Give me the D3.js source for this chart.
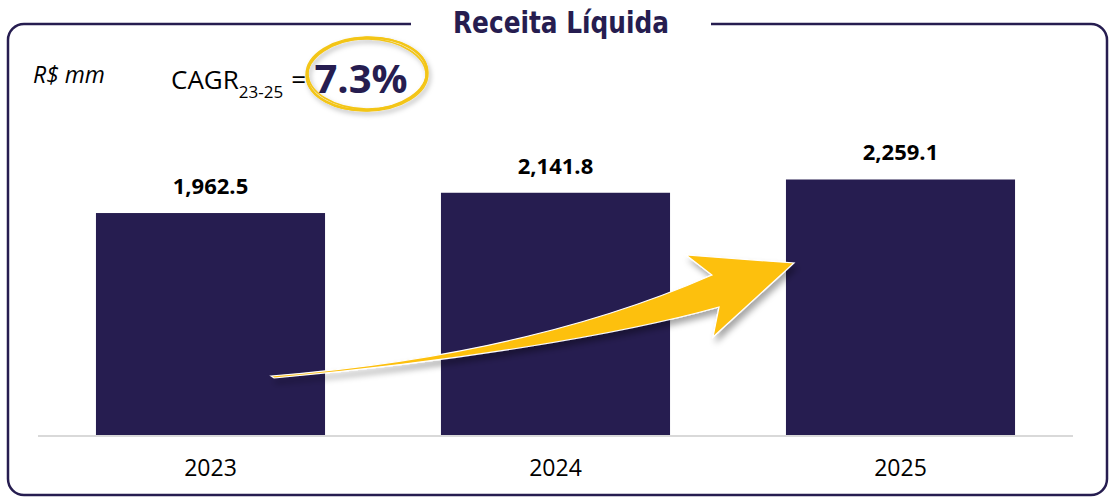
<!DOCTYPE html>
<html>
<head>
<meta charset="utf-8">
<script src="https://cdn.jsdelivr.net/npm/d3@7"></script>
<style>
  html, body { margin: 0; padding: 0; background: #fff; }
  svg { display: block; }
</style>
</head>
<body>
<svg id="chart" width="1109" height="497"></svg>
<script>
// ---- Data ----
const categories = ["2023", "2024", "2025"];
const values = [1962.5, 2141.8, 2259.1];
const valueLabels = ["1,962.5", "2,141.8", "2,259.1"];
const title = "Receita Líquida";
const unitLabel = "R$ mm";
const cagrLabel = "CAGR";
const cagrSub = "23-25";
const cagrValue = "7.3%";

// ---- Styles ----
const NAVY = "#261d50";
const YELLOW = "#fdc010";

const svg = d3.select("#chart");
const defs = svg.append("defs");

const sh = defs.append("filter").attr("id", "shadow")
  .attr("x", "-20%").attr("y", "-20%").attr("width", "140%").attr("height", "160%");
sh.append("feDropShadow").attr("dx", 3).attr("dy", 5).attr("stdDeviation", 3)
  .attr("flood-color", "#000").attr("flood-opacity", 0.35);

const sh2 = defs.append("filter").attr("id", "shadow2")
  .attr("x", "-20%").attr("y", "-20%").attr("width", "140%").attr("height", "160%");
sh2.append("feDropShadow").attr("dx", 2).attr("dy", 3).attr("stdDeviation", 2.5)
  .attr("flood-color", "#000").attr("flood-opacity", 0.25);

// ---- Frame with title gap ----
const fx0 = 8, fx1 = 1107, fy0 = 24, fy1 = 495, r = 16;
const gapL = 411, gapR = 711;
const framePath = d3.path();
framePath.moveTo(gapL, fy0);
framePath.lineTo(fx0 + r, fy0);
framePath.arcTo(fx0, fy0, fx0, fy0 + r, r);
framePath.lineTo(fx0, fy1 - r);
framePath.arcTo(fx0, fy1, fx0 + r, fy1, r);
framePath.lineTo(fx1 - r, fy1);
framePath.arcTo(fx1, fy1, fx1, fy1 - r, r);
framePath.lineTo(fx1, fy0 + r);
framePath.arcTo(fx1, fy0, fx1 - r, fy0, r);
framePath.lineTo(gapR, fy0);
svg.append("path").attr("d", framePath.toString())
  .attr("fill", "none").attr("stroke", NAVY).attr("stroke-width", 2.5);

const t = svg.append("text")
  .attr("x", 561).attr("y", 33)
  .attr("text-anchor", "middle")
  .attr("font-family", "'Liberation Sans Narrow', 'DejaVu Sans Condensed', sans-serif")
  .attr("font-weight", "bold")
  .attr("font-size", 31)
  .attr("fill", NAVY)
  .text(title);
const tw = t.node().getComputedTextLength();
if (Math.abs(tw - 216) > 8) t.attr("textLength", 216).attr("lengthAdjust", "spacingAndGlyphs");

// ---- Scales ----
const x = d3.scaleBand().domain(categories).range([38, 1073]).paddingInner(0.336).paddingOuter(0.168);
const y = d3.scaleLinear().domain([0, 2500]).range([435, 152.25]);

// ---- Baseline ----
svg.append("line")
  .attr("x1", x.range()[0]).attr("x2", x.range()[1])
  .attr("y1", y(0) + 1).attr("y2", y(0) + 1)
  .attr("stroke", "#d9d9d9").attr("stroke-width", 2);

// ---- Bars ----
svg.selectAll("rect.bar").data(values).join("rect")
  .attr("class", "bar")
  .attr("x", (d, i) => x(categories[i]))
  .attr("y", d => y(d))
  .attr("width", x.bandwidth())
  .attr("height", d => y(0) - y(d))
  .attr("fill", NAVY);

// ---- Value labels ----
svg.selectAll("text.val").data(values).join("text")
  .attr("class", "val")
  .attr("x", (d, i) => x(categories[i]) + x.bandwidth() / 2)
  .attr("y", d => y(d) - 19)
  .attr("text-anchor", "middle")
  .attr("font-family", "'Open Sans', sans-serif")
  .attr("font-weight", "bold")
  .attr("font-size", 22)
  .attr("fill", "#000")
  .text((d, i) => valueLabels[i]);

// ---- Category axis labels ----
const xAxis = d3.axisBottom(x).tickSize(0).tickPadding(0);
const ax = svg.append("g").attr("transform", `translate(0, ${y(0) + 41})`).call(xAxis);
ax.select(".domain").remove();
ax.selectAll("text")
  .attr("font-family", "'Open Sans', sans-serif")
  .attr("font-size", 23)
  .attr("fill", "#000")
  .attr("dy", 0);

// ---- Unit label ----
svg.append("text")
  .attr("x", 33).attr("y", 83)
  .attr("font-family", "'Open Sans', sans-serif")
  .attr("font-style", "italic")
  .attr("font-size", 23)
  .attr("fill", "#000")
  .text(unitLabel);

// ---- CAGR ----
const cg = svg.append("text")
  .attr("x", 171).attr("y", 89)
  .attr("font-family", "'Open Sans', sans-serif")
  .attr("font-size", 26)
  .attr("fill", "#000");
cg.append("tspan").text(cagrLabel);
cg.append("tspan").attr("font-size", 17).attr("dy", 9).text(cagrSub);
cg.append("tspan").attr("dy", -9).attr("dx", 8).text("=");

// hand-drawn ellipse
const eg = svg.append("g").attr("transform", "translate(367,74)").attr("filter", "url(#shadow2)");
[[60, 36, -3, 2.4], [59, 35, 1, 1.6], [61, 37, -1, 1.4]].forEach(([rx, ry, rot, w]) => {
  eg.append("ellipse").attr("rx", rx).attr("ry", ry)
    .attr("transform", `rotate(${rot})`)
    .attr("fill", "none").attr("stroke", "#f3c515").attr("stroke-width", w);
});
svg.append("text")
  .attr("x", 361).attr("y", 93)
  .attr("text-anchor", "middle")
  .attr("font-family", "'Open Sans', sans-serif")
  .attr("font-weight", "bold")
  .attr("font-size", 40)
  .attr("fill", NAVY)
  .text(cagrValue);

// ---- Growth arrow (annotation) ----
const ap = d3.path();
ap.moveTo(271, 376);
ap.quadraticCurveTo(530, 355, 712, 275);
ap.lineTo(686, 255);
ap.lineTo(794, 263);
ap.lineTo(713, 337);
ap.lineTo(719, 307);
ap.bezierCurveTo(620, 335, 450, 362, 274, 378);
ap.closePath();
svg.append("path").attr("d", ap.toString())
  .attr("fill", YELLOW)
  .attr("stroke", "#fff").attr("stroke-width", 1.2).attr("stroke-linejoin", "miter")
  .attr("filter", "url(#shadow)");
</script>
</body>
</html>
